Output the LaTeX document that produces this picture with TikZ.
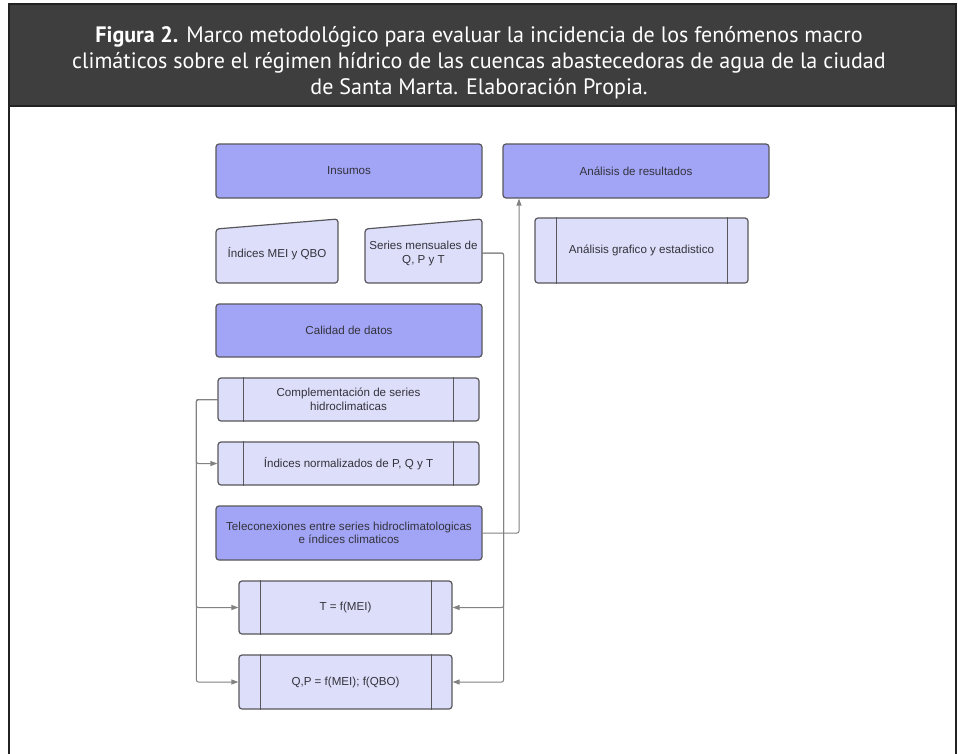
\documentclass[tikz,border=0pt]{standalone}
\usepackage{fontspec}
\setmainfont{Liberation Sans}
\newfontfamily\titlefont[FakeStretch=0.99]{PT Sans}
\usetikzlibrary{arrows.meta,calc}
\definecolor{hdr}{RGB}{62,62,62}
\definecolor{hdrline}{RGB}{34,34,34}
\definecolor{darkfill}{RGB}{162,164,246}
\definecolor{lightfill}{RGB}{221,222,250}
\definecolor{boxline}{RGB}{88,88,92}
\definecolor{conncol}{RGB}{130,130,130}
\definecolor{txt}{RGB}{51,51,60}
\tikzset{
  basebox/.style={draw=boxline, line width=1.2pt, rounded corners=3pt, text=txt,
    font=\fontsize{11.6}{13.5}\selectfont, align=center, inner sep=0pt},
  darkbox/.style={basebox, fill=darkfill},
  lightbox/.style={basebox, fill=lightfill},
  procline/.style={draw=boxline, line width=1.2pt},
  conn/.style={draw=conncol, line width=1pt, rounded corners=2pt},
  arr/.style={conn, -{Triangle[length=7pt,width=5pt]}},
}
\begin{document}
\begin{tikzpicture}[x=1pt,y=-1pt]
\useasboundingbox (0,0) rectangle (958,753);
\fill[white] (0,0) rectangle (958,753);
\begin{scope}
\clip (0,0) rectangle (958,753);
% frame
\draw[hdrline, line width=2.4pt, fill=white] (9,4) rectangle (956,770);
\fill[hdr] (9,4) rectangle (956,106);
\draw[hdrline, line width=2.4pt] (9,4) rectangle (956,106);
\end{scope}
% title
\node[text=white, align=center, font=\titlefont\fontsize{22.3}{26}\selectfont] (title) at (479,63)
 {\textbf{Figura 2.} Marco metodológico para evaluar la incidencia de los fenómenos macro\\
  climáticos sobre el régimen hídrico de las cuencas abastecedoras de agua de la ciudad\\
  de Santa Marta. Elaboración Propia.};

% main boxes
\node[darkbox, minimum width=266pt, minimum height=54pt] (ins) at (349,171) {Insumos};
\node[darkbox, minimum width=266pt, minimum height=54pt] (ar) at (636,171) {Análisis de resultados};

% manual input shapes
\draw[lightbox] (216,229) -- (338,219) -- (338,283) -- (216,283) -- cycle;
\node[text=txt, font=\fontsize{11.6}{13.5}\selectfont] (mei) at (277,254) {Índices MEI y QBO};
\draw[lightbox] (365,229) -- (482,219) -- (482,283) -- (365,283) -- cycle;
\node[text=txt, align=center, font=\fontsize{11.6}{14}\selectfont, minimum width=117pt, minimum height=60pt, inner sep=0pt] (ser) at (423.5,253) {Series mensuales de\\Q, P y T};

% analysis process box
\node[lightbox, minimum width=213pt, minimum height=65pt] (ag) at (641.5,250.5) {Análisis grafico y estadistico};
\draw[procline] ([xshift=22pt]ag.north west) -- ([xshift=22pt]ag.south west);
\draw[procline] ([xshift=-21pt]ag.north east) -- ([xshift=-21pt]ag.south east);

\node[darkbox, minimum width=266pt, minimum height=53pt] (cal) at (349,330.5) {Calidad de datos};

\node[lightbox, minimum width=261pt, minimum height=43pt] (comp) at (348.5,399.5) {Complementación de series\\hidroclimaticas};
\draw[procline] ([xshift=26pt]comp.north west) -- ([xshift=26pt]comp.south west);
\draw[procline] ([xshift=-26pt]comp.north east) -- ([xshift=-26pt]comp.south east);

\node[lightbox, minimum width=261pt, minimum height=43pt] (norm) at (348.5,463.5) {Índices normalizados de P, Q y T};
\draw[procline] ([xshift=26pt]norm.north west) -- ([xshift=26pt]norm.south west);
\draw[procline] ([xshift=-26pt]norm.north east) -- ([xshift=-26pt]norm.south east);

\node[darkbox, minimum width=266pt, minimum height=54pt] (tele) at (349,533) {Teleconexiones entre series hidroclimatologicas\\e índices climaticos};

\node[lightbox, minimum width=213pt, minimum height=53pt] (tf) at (345.5,607.5) {T = f(MEI)};
\draw[procline] ([xshift=22pt]tf.north west) -- ([xshift=22pt]tf.south west);
\draw[procline] ([xshift=-21pt]tf.north east) -- ([xshift=-21pt]tf.south east);

\node[lightbox, minimum width=213pt, minimum height=54pt] (qp) at (345.5,682) {Q,P = f(MEI); f(QBO)};
\draw[procline] ([xshift=22pt]qp.north west) -- ([xshift=22pt]qp.south west);
\draw[procline] ([xshift=-21pt]qp.north east) -- ([xshift=-21pt]qp.south east);

% connectors
\draw[arr] (ser.east) -| ([xshift=51pt]tf.east) -- (tf.east);
\draw[arr] (ser.east) -| ([xshift=51pt]qp.east) -- (qp.east);
\draw[arr] (tele.east) -| ([xshift=-117pt]ar.south);
\draw[arr] (comp.west) -| ([xshift=-21pt]norm.west) -- (norm.west);
\draw[arr] (comp.west) -| ([xshift=-42pt]tf.west) -- (tf.west);
\draw[arr] (comp.west) -| ([xshift=-42pt]qp.west) -- (qp.west);
\end{tikzpicture}
\end{document}
